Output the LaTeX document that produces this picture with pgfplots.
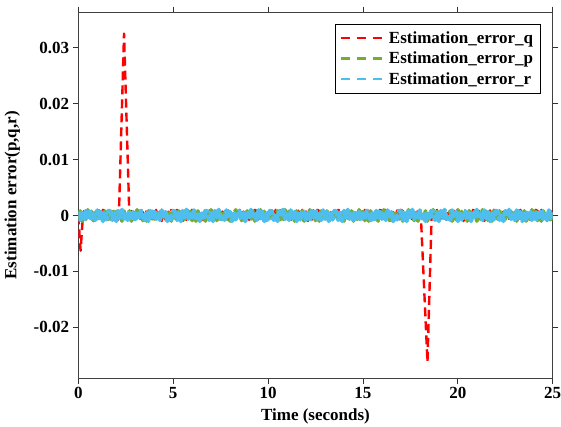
\documentclass[border=0pt]{standalone}
\usepackage{pgfplots}
\pgfplotsset{compat=1.18}
\usepackage{pgfplotstable}
\usepackage{fontspec}
\setmainfont{Liberation Serif}

\definecolor{qred}{RGB}{255,0,0}
\definecolor{pgreen}{RGB}{119,172,48}
\definecolor{rcyan}{RGB}{77,190,238}

% estimation error r (every 0.1 s)
\pgfplotstableread[row sep=\\]{
t v\\
0.0 0.0007\\0.1 -0.0008\\0.2 0.0004\\0.3 -0.0010\\0.4 0.0008\\0.5 -0.0003\\0.6 0.0010\\0.7 -0.0006\\0.8 0.0002\\0.9 -0.0008\\1.0 0.0009\\1.1 -0.0005\\1.2 0.0006\\1.3 -0.0010\\1.4 0.0003\\1.5 -0.0007\\1.6 0.0008\\
1.7 0.0007\\1.8 -0.0008\\1.9 0.0004\\2.0 -0.0010\\2.1 0.0008\\2.2 -0.0003\\2.3 0.0010\\2.4 -0.0006\\2.5 0.0002\\2.6 -0.0008\\2.7 0.0009\\2.8 -0.0005\\2.9 0.0006\\3.0 -0.0010\\3.1 0.0003\\3.2 -0.0007\\3.3 0.0008\\
3.4 0.0007\\3.5 -0.0008\\3.6 0.0004\\3.7 -0.0010\\3.8 0.0008\\3.9 -0.0003\\4.0 0.0010\\4.1 -0.0006\\4.2 0.0002\\4.3 -0.0008\\4.4 0.0009\\4.5 -0.0005\\4.6 0.0006\\4.7 -0.0010\\4.8 0.0003\\4.9 -0.0007\\5.0 0.0008\\
5.1 0.0007\\5.2 -0.0008\\5.3 0.0004\\5.4 -0.0010\\5.5 0.0008\\5.6 -0.0003\\5.7 0.0010\\5.8 -0.0006\\5.9 0.0002\\6.0 -0.0008\\6.1 0.0009\\6.2 -0.0005\\6.3 0.0006\\6.4 -0.0010\\6.5 0.0003\\6.6 -0.0007\\6.7 0.0008\\
6.8 0.0007\\6.9 -0.0008\\7.0 0.0004\\7.1 -0.0010\\7.2 0.0008\\7.3 -0.0003\\7.4 0.0010\\7.5 -0.0006\\7.6 0.0002\\7.7 -0.0008\\7.8 0.0009\\7.9 -0.0005\\8.0 0.0006\\8.1 -0.0010\\8.2 0.0003\\8.3 -0.0007\\8.4 0.0008\\
8.5 0.0007\\8.6 -0.0008\\8.7 0.0004\\8.8 -0.0010\\8.9 0.0008\\9.0 -0.0003\\9.1 0.0010\\9.2 -0.0006\\9.3 0.0002\\9.4 -0.0008\\9.5 0.0009\\9.6 -0.0005\\9.7 0.0006\\9.8 -0.0010\\9.9 0.0003\\10.0 -0.0007\\10.1 0.0008\\
10.2 0.0007\\10.3 -0.0008\\10.4 0.0004\\10.5 -0.0010\\10.6 0.0008\\10.7 -0.0003\\10.8 0.0010\\10.9 -0.0006\\11.0 0.0002\\11.1 -0.0008\\11.2 0.0009\\11.3 -0.0005\\11.4 0.0006\\11.5 -0.0010\\11.6 0.0003\\11.7 -0.0007\\11.8 0.0008\\
11.9 0.0007\\12.0 -0.0008\\12.1 0.0004\\12.2 -0.0010\\12.3 0.0008\\12.4 -0.0003\\12.5 0.0010\\12.6 -0.0006\\12.7 0.0002\\12.8 -0.0008\\12.9 0.0009\\13.0 -0.0005\\13.1 0.0006\\13.2 -0.0010\\13.3 0.0003\\13.4 -0.0007\\13.5 0.0008\\
13.6 0.0007\\13.7 -0.0008\\13.8 0.0004\\13.9 -0.0010\\14.0 0.0008\\14.1 -0.0003\\14.2 0.0010\\14.3 -0.0006\\14.4 0.0002\\14.5 -0.0008\\14.6 0.0009\\14.7 -0.0005\\14.8 0.0006\\14.9 -0.0010\\15.0 0.0003\\15.1 -0.0007\\15.2 0.0008\\
15.3 0.0007\\15.4 -0.0008\\15.5 0.0004\\15.6 -0.0010\\15.7 0.0008\\15.8 -0.0003\\15.9 0.0010\\16.0 -0.0006\\16.1 0.0002\\16.2 -0.0008\\16.3 0.0009\\16.4 -0.0005\\16.5 0.0006\\16.6 -0.0010\\16.7 0.0003\\16.8 -0.0007\\16.9 0.0008\\
17.0 0.0007\\17.1 -0.0008\\17.2 0.0004\\17.3 -0.0010\\17.4 0.0008\\17.5 -0.0003\\17.6 0.0010\\17.7 -0.0006\\17.8 0.0002\\17.9 -0.0008\\18.0 0.0009\\18.1 -0.0005\\18.2 0.0006\\18.3 -0.0010\\18.4 0.0003\\18.5 -0.0007\\18.6 0.0008\\
18.7 0.0007\\18.8 -0.0008\\18.9 0.0004\\19.0 -0.0010\\19.1 0.0008\\19.2 -0.0003\\19.3 0.0010\\19.4 -0.0006\\19.5 0.0002\\19.6 -0.0008\\19.7 0.0009\\19.8 -0.0005\\19.9 0.0006\\20.0 -0.0010\\20.1 0.0003\\20.2 -0.0007\\20.3 0.0008\\
20.4 0.0007\\20.5 -0.0008\\20.6 0.0004\\20.7 -0.0010\\20.8 0.0008\\20.9 -0.0003\\21.0 0.0010\\21.1 -0.0006\\21.2 0.0002\\21.3 -0.0008\\21.4 0.0009\\21.5 -0.0005\\21.6 0.0006\\21.7 -0.0010\\21.8 0.0003\\21.9 -0.0007\\22.0 0.0008\\
22.1 0.0007\\22.2 -0.0008\\22.3 0.0004\\22.4 -0.0010\\22.5 0.0008\\22.6 -0.0003\\22.7 0.0010\\22.8 -0.0006\\22.9 0.0002\\23.0 -0.0008\\23.1 0.0009\\23.2 -0.0005\\23.3 0.0006\\23.4 -0.0010\\23.5 0.0003\\23.6 -0.0007\\23.7 0.0008\\
23.8 0.0007\\23.9 -0.0008\\24.0 0.0004\\24.1 -0.0010\\24.2 0.0008\\24.3 -0.0003\\24.4 0.0010\\24.5 -0.0006\\24.6 0.0002\\24.7 -0.0008\\24.8 0.0009\\24.9 -0.0005\\25.0 0.0006\\
}\rtable

% estimation error p (every 0.1 s)
\pgfplotstableread[row sep=\\]{
t v\\
0.0 -0.0006\\0.1 0.0008\\0.2 -0.0010\\0.3 0.0004\\0.4 -0.0007\\0.5 0.0010\\0.6 -0.0003\\0.7 0.0007\\0.8 -0.0009\\0.9 0.0005\\1.0 -0.0010\\1.1 0.0008\\1.2 -0.0004\\
1.3 -0.0006\\1.4 0.0008\\1.5 -0.0010\\1.6 0.0004\\1.7 -0.0007\\1.8 0.0010\\1.9 -0.0003\\2.0 0.0007\\2.1 -0.0009\\2.2 0.0005\\2.3 -0.0010\\2.4 0.0008\\2.5 -0.0004\\
2.6 -0.0006\\2.7 0.0008\\2.8 -0.0010\\2.9 0.0004\\3.0 -0.0007\\3.1 0.0010\\3.2 -0.0003\\3.3 0.0007\\3.4 -0.0009\\3.5 0.0005\\3.6 -0.0010\\3.7 0.0008\\3.8 -0.0004\\
3.9 -0.0006\\4.0 0.0008\\4.1 -0.0010\\4.2 0.0004\\4.3 -0.0007\\4.4 0.0010\\4.5 -0.0003\\4.6 0.0007\\4.7 -0.0009\\4.8 0.0005\\4.9 -0.0010\\5.0 0.0008\\5.1 -0.0004\\
5.2 -0.0006\\5.3 0.0008\\5.4 -0.0010\\5.5 0.0004\\5.6 -0.0007\\5.7 0.0010\\5.8 -0.0003\\5.9 0.0007\\6.0 -0.0009\\6.1 0.0005\\6.2 -0.0010\\6.3 0.0008\\6.4 -0.0004\\
6.5 -0.0006\\6.6 0.0008\\6.7 -0.0010\\6.8 0.0004\\6.9 -0.0007\\7.0 0.0010\\7.1 -0.0003\\7.2 0.0007\\7.3 -0.0009\\7.4 0.0005\\7.5 -0.0010\\7.6 0.0008\\7.7 -0.0004\\
7.8 -0.0006\\7.9 0.0008\\8.0 -0.0010\\8.1 0.0004\\8.2 -0.0007\\8.3 0.0010\\8.4 -0.0003\\8.5 0.0007\\8.6 -0.0009\\8.7 0.0005\\8.8 -0.0010\\8.9 0.0008\\9.0 -0.0004\\
9.1 -0.0006\\9.2 0.0008\\9.3 -0.0010\\9.4 0.0004\\9.5 -0.0007\\9.6 0.0010\\9.7 -0.0003\\9.8 0.0007\\9.9 -0.0009\\10.0 0.0005\\10.1 -0.0010\\10.2 0.0008\\10.3 -0.0004\\
10.4 -0.0006\\10.5 0.0008\\10.6 -0.0010\\10.7 0.0004\\10.8 -0.0007\\10.9 0.0010\\11.0 -0.0003\\11.1 0.0007\\11.2 -0.0009\\11.3 0.0005\\11.4 -0.0010\\11.5 0.0008\\11.6 -0.0004\\
11.7 -0.0006\\11.8 0.0008\\11.9 -0.0010\\12.0 0.0004\\12.1 -0.0007\\12.2 0.0010\\12.3 -0.0003\\12.4 0.0007\\12.5 -0.0009\\12.6 0.0005\\12.7 -0.0010\\12.8 0.0008\\12.9 -0.0004\\
13.0 -0.0006\\13.1 0.0008\\13.2 -0.0010\\13.3 0.0004\\13.4 -0.0007\\13.5 0.0010\\13.6 -0.0003\\13.7 0.0007\\13.8 -0.0009\\13.9 0.0005\\14.0 -0.0010\\14.1 0.0008\\14.2 -0.0004\\
14.3 -0.0006\\14.4 0.0008\\14.5 -0.0010\\14.6 0.0004\\14.7 -0.0007\\14.8 0.0010\\14.9 -0.0003\\15.0 0.0007\\15.1 -0.0009\\15.2 0.0005\\15.3 -0.0010\\15.4 0.0008\\15.5 -0.0004\\
15.6 -0.0006\\15.7 0.0008\\15.8 -0.0010\\15.9 0.0004\\16.0 -0.0007\\16.1 0.0010\\16.2 -0.0003\\16.3 0.0007\\16.4 -0.0009\\16.5 0.0005\\16.6 -0.0010\\16.7 0.0008\\16.8 -0.0004\\
16.9 -0.0006\\17.0 0.0008\\17.1 -0.0010\\17.2 0.0004\\17.3 -0.0007\\17.4 0.0010\\17.5 -0.0003\\17.6 0.0007\\17.7 -0.0009\\17.8 0.0005\\17.9 -0.0010\\18.0 0.0008\\18.1 -0.0004\\
18.2 -0.0006\\18.3 0.0008\\18.4 -0.0010\\18.5 0.0004\\18.6 -0.0007\\18.7 0.0010\\18.8 -0.0003\\18.9 0.0007\\19.0 -0.0009\\19.1 0.0005\\19.2 -0.0010\\19.3 0.0008\\19.4 -0.0004\\
19.5 -0.0006\\19.6 0.0008\\19.7 -0.0010\\19.8 0.0004\\19.9 -0.0007\\20.0 0.0010\\20.1 -0.0003\\20.2 0.0007\\20.3 -0.0009\\20.4 0.0005\\20.5 -0.0010\\20.6 0.0008\\20.7 -0.0004\\
20.8 -0.0006\\20.9 0.0008\\21.0 -0.0010\\21.1 0.0004\\21.2 -0.0007\\21.3 0.0010\\21.4 -0.0003\\21.5 0.0007\\21.6 -0.0009\\21.7 0.0005\\21.8 -0.0010\\21.9 0.0008\\22.0 -0.0004\\
22.1 -0.0006\\22.2 0.0008\\22.3 -0.0010\\22.4 0.0004\\22.5 -0.0007\\22.6 0.0010\\22.7 -0.0003\\22.8 0.0007\\22.9 -0.0009\\23.0 0.0005\\23.1 -0.0010\\23.2 0.0008\\23.3 -0.0004\\
23.4 -0.0006\\23.5 0.0008\\23.6 -0.0010\\23.7 0.0004\\23.8 -0.0007\\23.9 0.0010\\24.0 -0.0003\\24.1 0.0007\\24.2 -0.0009\\24.3 0.0005\\24.4 -0.0010\\24.5 0.0008\\24.6 -0.0004\\
24.7 -0.0006\\24.8 0.0008\\24.9 -0.0010\\25.0 0.0004\\
}\ptable

% estimation error q (every 0.1 s), with its two transients
\pgfplotstableread[row sep=\\]{
t v\\
0.0 0.0000\\0.12 -0.0063\\0.25 0.0002\\
0.3 0.0008\\0.4 -0.0007\\0.5 0.0010\\0.6 -0.0005\\0.7 0.0007\\0.8 -0.0010\\0.9 0.0006\\1.0 -0.0008\\1.1 0.0009\\1.2 -0.0004\\1.3 0.0010\\
1.4 0.0008\\1.5 -0.0007\\1.6 0.0010\\1.7 -0.0005\\1.8 0.0007\\1.9 -0.0010\\2.0 0.0006\\2.1 -0.0008\\
2.14 0.0002\\2.41 0.0325\\2.69 0.0001\\
2.8 0.0008\\2.9 -0.0007\\3.0 0.0010\\3.1 -0.0005\\3.2 0.0007\\3.3 -0.0010\\3.4 0.0006\\3.5 -0.0008\\3.6 0.0009\\3.7 -0.0004\\3.8 0.0010\\
3.9 0.0008\\4.0 -0.0007\\4.1 0.0010\\4.2 -0.0005\\4.3 0.0007\\4.4 -0.0010\\4.5 0.0006\\4.6 -0.0008\\4.7 0.0009\\4.8 -0.0004\\4.9 0.0010\\
5.0 0.0008\\5.1 -0.0007\\5.2 0.0010\\5.3 -0.0005\\5.4 0.0007\\5.5 -0.0010\\5.6 0.0006\\5.7 -0.0008\\5.8 0.0009\\5.9 -0.0004\\6.0 0.0010\\
6.1 0.0008\\6.2 -0.0007\\6.3 0.0010\\6.4 -0.0005\\6.5 0.0007\\6.6 -0.0010\\6.7 0.0006\\6.8 -0.0008\\6.9 0.0009\\7.0 -0.0004\\7.1 0.0010\\
7.2 0.0008\\7.3 -0.0007\\7.4 0.0010\\7.5 -0.0005\\7.6 0.0007\\7.7 -0.0010\\7.8 0.0006\\7.9 -0.0008\\8.0 0.0009\\8.1 -0.0004\\8.2 0.0010\\
8.3 0.0008\\8.4 -0.0007\\8.5 0.0010\\8.6 -0.0005\\8.7 0.0007\\8.8 -0.0010\\8.9 0.0006\\9.0 -0.0008\\9.1 0.0009\\9.2 -0.0004\\9.3 0.0010\\
9.4 0.0008\\9.5 -0.0007\\9.6 0.0010\\9.7 -0.0005\\9.8 0.0007\\9.9 -0.0010\\10.0 0.0006\\10.1 -0.0008\\10.2 0.0009\\10.3 -0.0004\\10.4 0.0010\\
10.5 0.0008\\10.6 -0.0007\\10.7 0.0010\\10.8 -0.0005\\10.9 0.0007\\11.0 -0.0010\\11.1 0.0006\\11.2 -0.0008\\11.3 0.0009\\11.4 -0.0004\\11.5 0.0010\\
11.6 0.0008\\11.7 -0.0007\\11.8 0.0010\\11.9 -0.0005\\12.0 0.0007\\12.1 -0.0010\\12.2 0.0006\\12.3 -0.0008\\12.4 0.0009\\12.5 -0.0004\\12.6 0.0010\\
12.7 0.0008\\12.8 -0.0007\\12.9 0.0010\\13.0 -0.0005\\13.1 0.0007\\13.2 -0.0010\\13.3 0.0006\\13.4 -0.0008\\13.5 0.0009\\13.6 -0.0004\\13.7 0.0010\\
13.8 0.0008\\13.9 -0.0007\\14.0 0.0010\\14.1 -0.0005\\14.2 0.0007\\14.3 -0.0010\\14.4 0.0006\\14.5 -0.0008\\14.6 0.0009\\14.7 -0.0004\\14.8 0.0010\\
14.9 0.0008\\15.0 -0.0007\\15.1 0.0010\\15.2 -0.0005\\15.3 0.0007\\15.4 -0.0010\\15.5 0.0006\\15.6 -0.0008\\15.7 0.0009\\15.8 -0.0004\\15.9 0.0010\\
16.0 0.0008\\16.1 -0.0007\\16.2 0.0010\\16.3 -0.0005\\16.4 0.0007\\16.5 -0.0010\\16.6 0.0006\\16.7 -0.0008\\16.8 0.0009\\16.9 -0.0004\\17.0 0.0010\\
17.1 0.0008\\17.2 -0.0007\\17.3 0.0010\\17.4 -0.0005\\17.5 0.0007\\17.6 -0.0010\\17.7 0.0006\\17.8 -0.0008\\17.9 0.0009\\18.0 -0.0004\\
18.05 0.0001\\18.4 -0.0262\\18.62 0.0000\\
18.7 0.0008\\18.8 -0.0007\\18.9 0.0010\\19.0 -0.0005\\19.1 0.0007\\19.2 -0.0010\\19.3 0.0006\\19.4 -0.0008\\19.5 0.0009\\19.6 -0.0004\\19.7 0.0010\\
19.8 0.0008\\19.9 -0.0007\\20.0 0.0010\\20.1 -0.0005\\20.2 0.0007\\20.3 -0.0010\\20.4 0.0006\\20.5 -0.0008\\20.6 0.0009\\20.7 -0.0004\\20.8 0.0010\\
20.9 0.0008\\21.0 -0.0007\\21.1 0.0010\\21.2 -0.0005\\21.3 0.0007\\21.4 -0.0010\\21.5 0.0006\\21.6 -0.0008\\21.7 0.0009\\21.8 -0.0004\\21.9 0.0010\\
22.0 0.0008\\22.1 -0.0007\\22.2 0.0010\\22.3 -0.0005\\22.4 0.0007\\22.5 -0.0010\\22.6 0.0006\\22.7 -0.0008\\22.8 0.0009\\22.9 -0.0004\\23.0 0.0010\\
23.1 0.0008\\23.2 -0.0007\\23.3 0.0010\\23.4 -0.0005\\23.5 0.0007\\23.6 -0.0010\\23.7 0.0006\\23.8 -0.0008\\23.9 0.0009\\24.0 -0.0004\\24.1 0.0010\\
24.2 0.0008\\24.3 -0.0007\\24.4 0.0010\\24.5 -0.0005\\24.6 0.0007\\24.7 -0.0010\\24.8 0.0006\\24.9 -0.0008\\25.0 0.0009\\
}\qtable

\begin{document}
\begin{tikzpicture}
\begin{axis}[
    scale only axis,
    width=474.4pt, height=366pt,
    xmin=0, xmax=25,
    ymin=-0.0291, ymax=0.0363,
    font=\fontsize{17}{20}\selectfont\bfseries,
    axis line style={black!75, line width=0.8pt},
    tick align=outside,
    major tick length=5.7pt,
    tick style={black!80, line width=0.8pt},
    scaled y ticks=false,
    scaled x ticks=false,
    xtick={0,5,10,15,20,25},
    xticklabels={0,5,10,15,20,25},
    ytick={-0.02,-0.01,0,0.01,0.02,0.03},
    yticklabels={-0.02,-0.01,0,0.01,0.02,0.03},
    xlabel={Time (seconds)},
    ylabel={Estimation error(p,q,r)},
    xlabel style={at={(axis description cs:0.5,-0.103)}, anchor=center},
    ylabel style={at={(axis description cs:-0.139,0.5)}, anchor=center},
    legend style={at={(rel axis cs:0.9747,0.968)}, anchor=north east,
        draw=black, line width=0.6pt, fill=white,
        font=\fontsize{17}{20}\selectfont\bfseries,
        inner xsep=5pt, inner ysep=5pt, row sep=2.5pt,
        nodes={inner sep=2.3pt}},
    legend cell align=left,
    legend image code/.code={\draw[#1, line width=2.4pt, dash pattern=on 9pt off 7pt] (0pt,0pt) -- (44pt,0pt);},
    every axis plot/.append style={line width=2.4pt, line join=round},
]
\addplot[qred, dash pattern=on 9pt off 5pt] table[x=t, y=v] {\qtable};
\addlegendentry{Estimation\_error\_q}
\addplot[pgreen, line width=3.8pt, dash pattern=on 9pt off 3pt] table[x=t, y=v] {\ptable};
\addlegendentry{Estimation\_error\_p}
\addplot[rcyan, line width=4.4pt, dash pattern=on 10pt off 2pt] table[x=t, y=v] {\rtable};
\addlegendentry{Estimation\_error\_r}
\end{axis}
\pgfresetboundingbox
\path[use as bounding box] (current axis.south west) ++(-78.3pt,-48.7pt) rectangle ++(561pt,427pt);
\end{tikzpicture}
\end{document}
